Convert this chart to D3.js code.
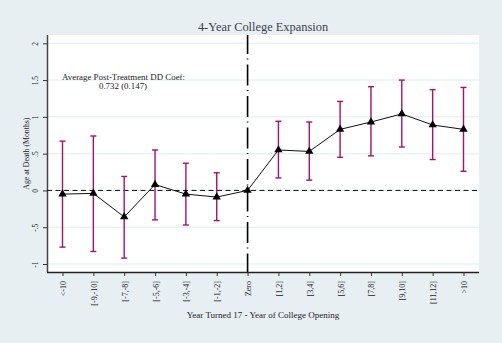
<!DOCTYPE html>
<html>
<head>
<meta charset="utf-8">
<script src="https://cdn.jsdelivr.net/npm/d3@7"></script>
<style>
  body { margin: 0; background: #e8eff3; }
  text { font-family: "Liberation Serif", "DejaVu Serif", serif; fill: #222; }
</style>
</head>
<body>
<div id="chart"></div>
<script>
// data
var categories = ["<-10", "[-9,-10]", "[-7,-8]", "[-5,-6]", "[-3,-4]", "[-1,-2]", "Zero",
    "[1,2]", "[3,4]", "[5,6]", "[7,8]", "[9,10]", "[11,12]", ">10"];
var coef  = [-0.05, -0.04, -0.36, 0.08, -0.05, -0.09, 0, 0.55, 0.53, 0.83, 0.93, 1.04, 0.89, 0.83];
var upper = [0.67, 0.74, 0.19, 0.55, 0.37, 0.24, null, 0.94, 0.93, 1.21, 1.41, 1.50, 1.37, 1.40];
var lower = [-0.77, -0.83, -0.92, -0.40, -0.47, -0.41, null, 0.17, 0.14, 0.45, 0.47, 0.59, 0.42, 0.26];
var yTicks = [-1, -0.5, 0, 0.5, 1, 1.5, 2];
var yTickLabels = ["-1", "-.5", "0", ".5", "1", "1.5", "2"];

var width = 502, height = 343;
var margin = { top: 35, right: 23, bottom: 71, left: 47 };

var svg = d3.select("#chart").append("svg")
    .attr("width", width)
    .attr("height", height);

svg.append("rect")
    .attr("width", width).attr("height", height)
    .attr("fill", "#e8eff3");

// white plot region
svg.append("rect")
    .attr("x", margin.left)
    .attr("y", margin.top)
    .attr("width", width - margin.left - margin.right)
    .attr("height", height - margin.top - margin.bottom)
    .attr("fill", "#ffffff");

var x = d3.scalePoint()
    .domain(categories)
    .range([62.5, 463.5]);

var y = d3.scaleLinear()
    .domain([-1, 2])
    .range([264, 43.3]);

// gridlines
svg.append("g")
    .selectAll("line")
    .data(yTicks)
    .enter().append("line")
    .attr("x1", margin.left)
    .attr("x2", width - margin.right)
    .attr("y1", function (d) { return y(d); })
    .attr("y2", function (d) { return y(d); })
    .attr("stroke", "#eaf2f4")
    .attr("stroke-width", 1.5);

// y axis
var yAxis = d3.axisLeft(y)
    .tickValues(yTicks)
    .tickSize(4)
    .tickFormat(function (d, i) { return yTickLabels[i]; });

var gy = svg.append("g")
    .attr("transform", "translate(" + margin.left + ",0)")
    .call(yAxis);
gy.select(".domain")
    .attr("d", "M0.5," + margin.top + "V" + (height - margin.bottom))
    .attr("stroke", "#444").attr("stroke-width", 1.5);
gy.selectAll(".tick line").attr("stroke", "#333");
gy.selectAll(".tick text")
    .attr("font-size", 7.5)
    .attr("x", null).attr("dy", null)
    .attr("text-anchor", "middle")
    .attr("transform", "translate(-9.5,0) rotate(-90)");

// x axis
var xAxis = d3.axisBottom(x).tickSize(4);
var gx = svg.append("g")
    .attr("transform", "translate(0," + (height - margin.bottom) + ")")
    .call(xAxis);
gx.select(".domain")
    .attr("d", "M" + margin.left + ",0.5H" + (width - margin.right))
    .attr("stroke", "#222").attr("stroke-width", 1.5);
gx.selectAll(".tick line").attr("stroke", "#333");
gx.selectAll(".tick text")
    .attr("font-size", 8)
    .attr("y", null).attr("dy", null)
    .attr("text-anchor", "end")
    .attr("transform", "translate(3,9) rotate(-90)");

// reference lines
svg.append("line")
    .attr("x1", margin.left).attr("x2", width - margin.right)
    .attr("y1", y(0)).attr("y2", y(0))
    .attr("stroke", "#111").attr("stroke-width", 1)
    .attr("stroke-dasharray", "5,3.5");

svg.append("line")
    .attr("x1", x("Zero")).attr("x2", x("Zero"))
    .attr("y1", margin.top).attr("y2", height - margin.bottom)
    .attr("stroke", "#000").attr("stroke-width", 1.6)
    .attr("stroke-dasharray", "21,4.5,1,5")
    .attr("stroke-dashoffset", 2);

// error bars
var ci = categories.map(function (c, i) {
    return { cat: c, lo: lower[i], hi: upper[i] };
}).filter(function (d) { return d.lo !== null; });

var bars = svg.append("g").attr("stroke", "#a3126f").attr("stroke-width", 1.4);
bars.selectAll(".ci")
    .data(ci).enter().append("line")
    .attr("x1", function (d) { return x(d.cat); })
    .attr("x2", function (d) { return x(d.cat); })
    .attr("y1", function (d) { return y(d.lo); })
    .attr("y2", function (d) { return y(d.hi); });
bars.selectAll(".capHi")
    .data(ci).enter().append("line")
    .attr("x1", function (d) { return x(d.cat) - 3; })
    .attr("x2", function (d) { return x(d.cat) + 3; })
    .attr("y1", function (d) { return y(d.hi); })
    .attr("y2", function (d) { return y(d.hi); });
bars.selectAll(".capLo")
    .data(ci).enter().append("line")
    .attr("x1", function (d) { return x(d.cat) - 3; })
    .attr("x2", function (d) { return x(d.cat) + 3; })
    .attr("y1", function (d) { return y(d.lo); })
    .attr("y2", function (d) { return y(d.lo); });

// connected line
var pts = categories.map(function (c, i) { return { cat: c, v: coef[i] }; });
var line = d3.line()
    .x(function (d) { return x(d.cat); })
    .y(function (d) { return y(d.v); });

svg.append("path")
    .datum(pts)
    .attr("d", line)
    .attr("fill", "none")
    .attr("stroke", "#111")
    .attr("stroke-width", 1);

svg.selectAll(".marker")
    .data(pts).enter().append("path")
    .attr("d", d3.symbol().type(d3.symbolTriangle).size(30))
    .attr("transform", function (d) { return "translate(" + x(d.cat) + "," + y(d.v) + ")"; })
    .attr("fill", "#000");

// titles
svg.append("text")
    .attr("x", 263).attr("y", 30.5)
    .attr("text-anchor", "middle")
    .attr("font-size", 12.4)
    .style("fill", "#3a3f4a")
    .text("4-Year College Expansion");

svg.append("text")
    .attr("transform", "translate(29," + y(0.5) + ") rotate(-90)")
    .attr("text-anchor", "middle")
    .attr("font-size", 7.8)
    .text("Age at Death (Months)");

svg.append("text")
    .attr("x", 263).attr("y", 318)
    .attr("text-anchor", "middle")
    .attr("font-size", 9)
    .text("Year Turned 17 - Year of College Opening");

// annotation
svg.append("text")
    .attr("x", 62).attr("y", 80)
    .attr("font-size", 8.9)
    .text("Average Post-Treatment DD Coef:");
svg.append("text")
    .attr("x", 123).attr("y", 88.5)
    .attr("text-anchor", "middle")
    .attr("font-size", 8.9)
    .text("0.732 (0.147)");
</script>
</body>
</html>
